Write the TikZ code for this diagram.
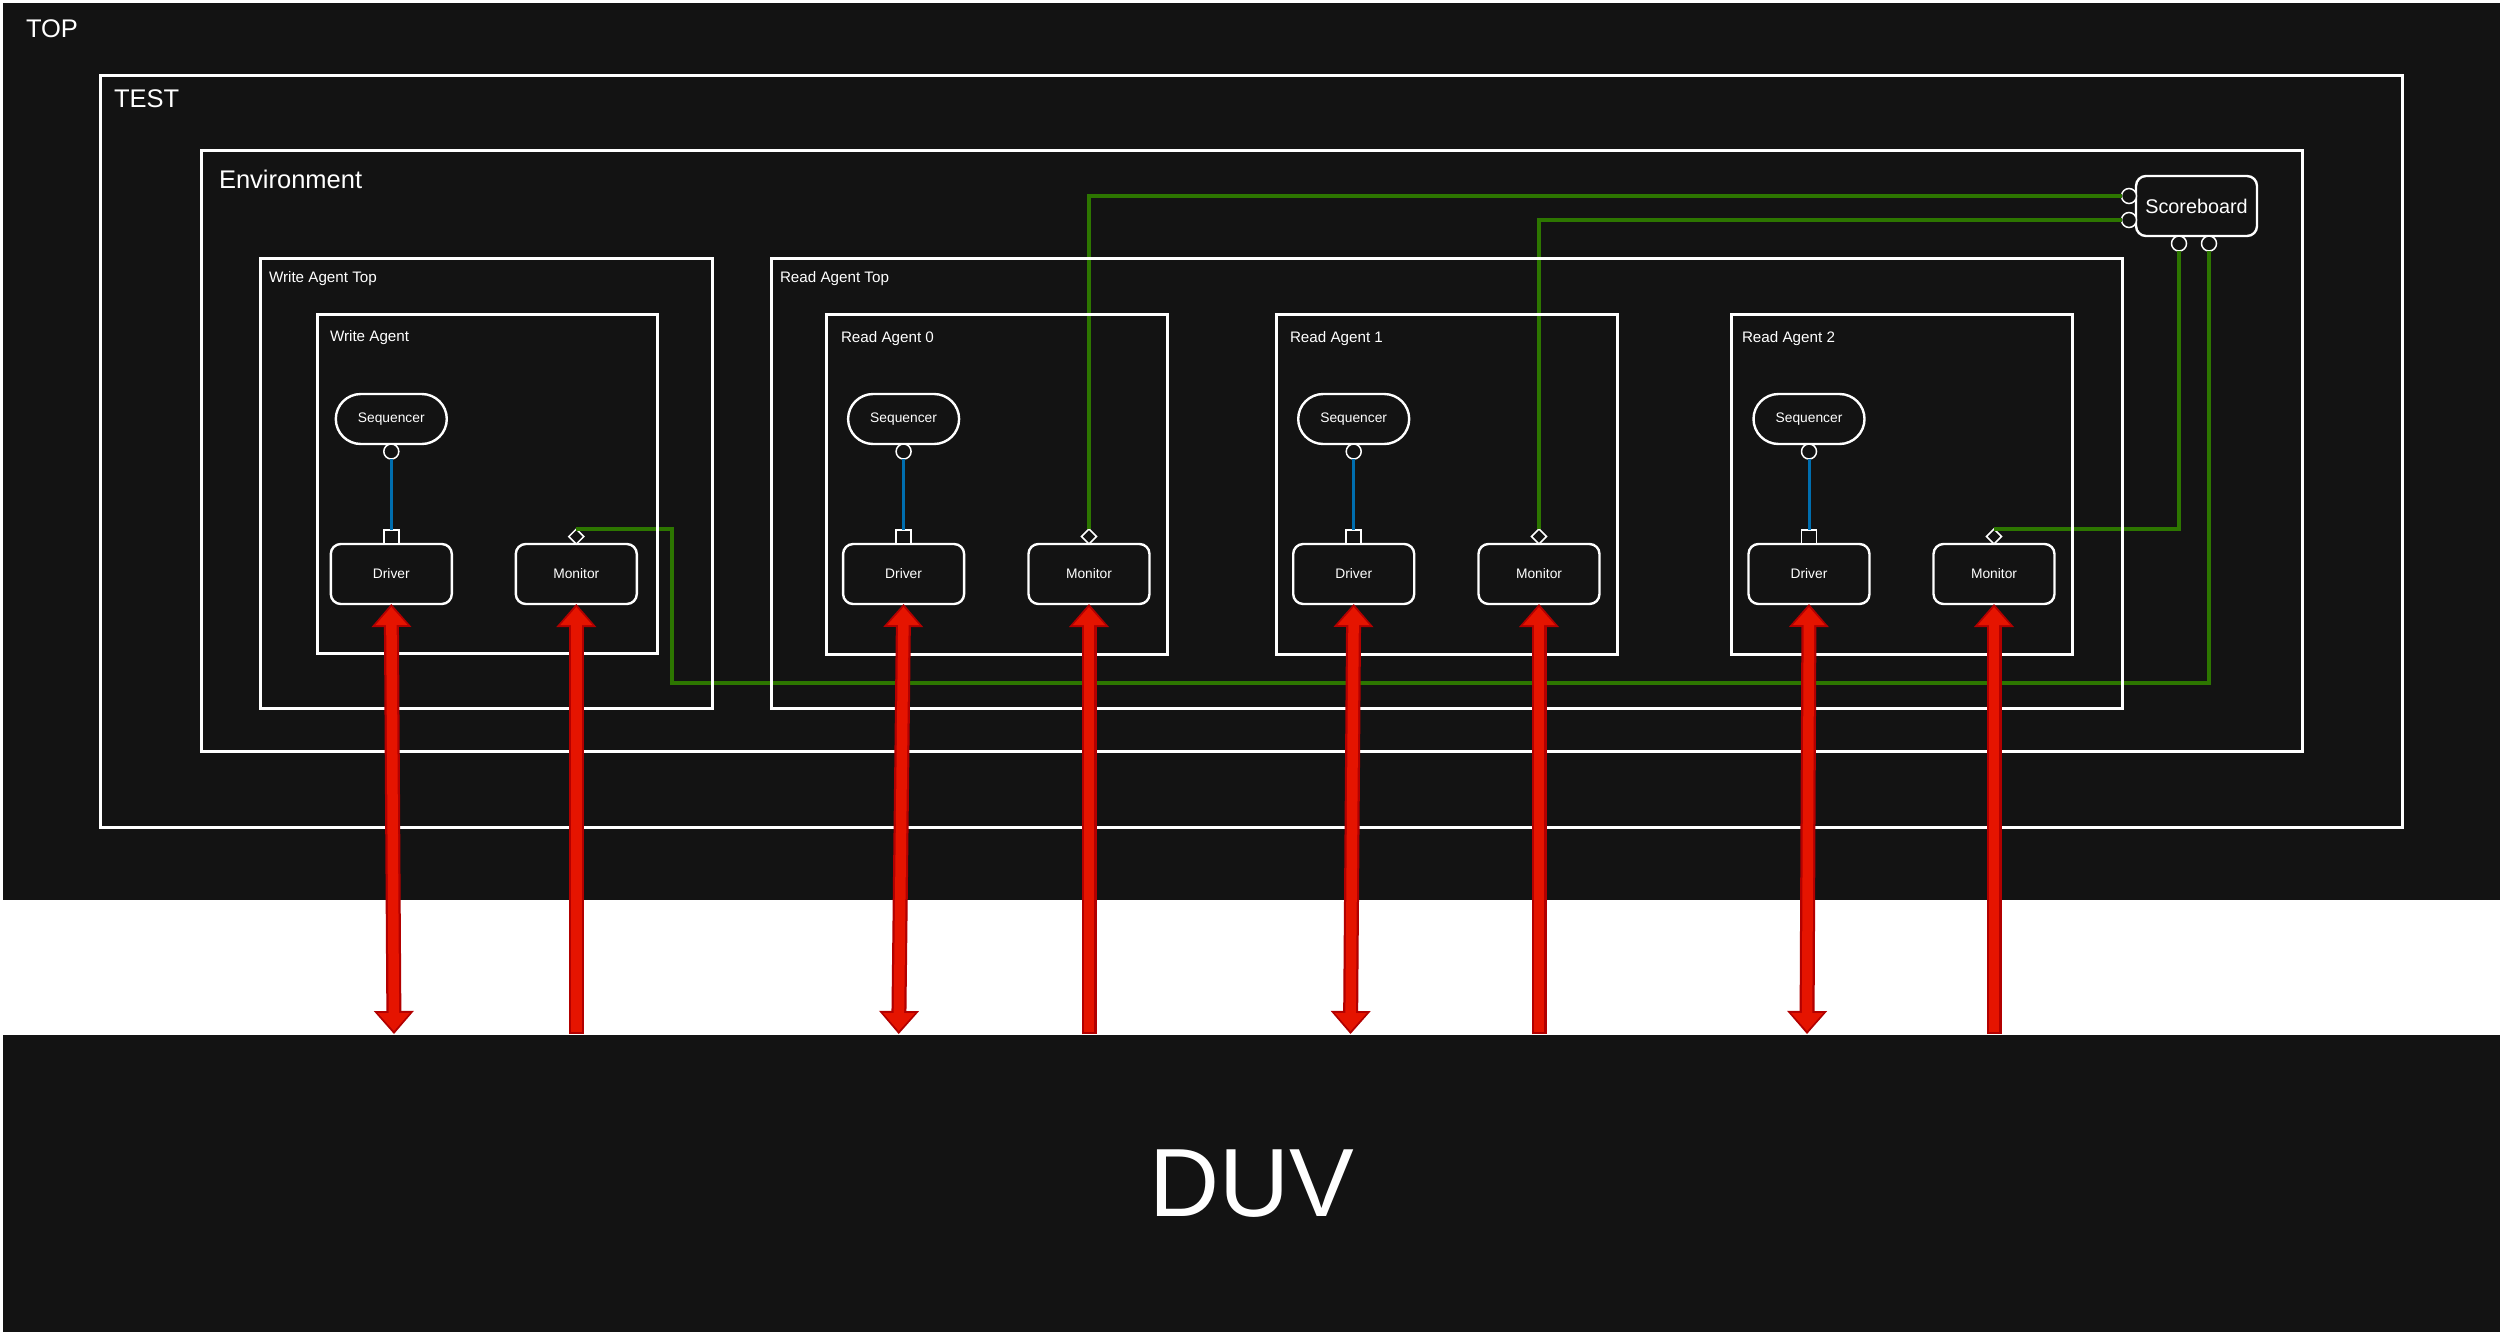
\documentclass[tikz,border=0pt]{standalone}
\usepackage{fontspec}
\setmainfont{Liberation Sans}
\usetikzlibrary{arrows.meta,shapes.geometric}
\definecolor{bgdark}{HTML}{131313}
\definecolor{lgreen}{HTML}{2D7600}
\definecolor{lblue}{HTML}{006EAF}
\definecolor{arrred}{HTML}{E51400}
\definecolor{arrdark}{HTML}{B20000}
\tikzset{
  cont/.style={rectangle, draw=white, line width=3pt, inner sep=0pt, outer sep=0pt, anchor=north west},
  lbl/.style={anchor=base west, inner sep=0pt, outer sep=0pt, text=white},
  bigl/.style={lbl, font=\fontsize{25.5}{30}\selectfont},
  midl/.style={lbl, font=\fontsize{15.2}{18}\selectfont},
  seqbox/.style={rectangle, draw=white, line width=2.4pt, rounded corners=25pt, minimum width=111pt, minimum height=50pt, inner sep=0pt, outer sep=0pt, text=white, font=\fontsize{13.8}{16}\selectfont},
  unitbox/.style={rectangle, draw=white, line width=2.4pt, rounded corners=10pt, minimum width=121pt, minimum height=60pt, inner sep=0pt, outer sep=0pt, text=white, font=\fontsize{13.8}{16}\selectfont},
  sbbox/.style={unitbox, font=\fontsize{19.8}{22}\selectfont},
  portc/.style={circle, draw=white, line width=1.5pt, fill=bgdark, minimum size=15pt, inner sep=0pt, outer sep=0pt},
  ports/.style={rectangle, draw=white, line width=1.5pt, fill=bgdark, minimum width=15pt, minimum height=14pt, inner sep=0pt, outer sep=0pt},
  portd/.style={diamond, draw=white, line width=1.5pt, fill=bgdark, minimum width=15pt, minimum height=15pt, inner sep=0pt, outer sep=0pt},
  blueline/.style={draw=lblue, line width=3pt},
  greenline/.style={draw=lgreen, line width=3.4pt},
  fatO/.style={draw=arrdark, line width=15pt},
  fatI/.style={draw=arrred, line width=10.5pt},
  dblO/.style={fatO, arrows={Triangle[length=23pt,width=40pt,line width=0pt]-Triangle[length=23pt,width=40pt,line width=0pt]}},
  dblI/.style={fatI, arrows={Triangle[length=18pt,width=32pt,line width=0pt]-Triangle[length=18pt,width=32pt,line width=0pt]}, shorten <=3pt, shorten >=3pt},
  sglO/.style={fatO, arrows={-Triangle[length=23pt,width=40pt,line width=0pt]}},
  sglI/.style={fatI, arrows={-Triangle[length=18pt,width=32pt,line width=0pt]}, shorten <=2pt, shorten >=3pt},
}
\begin{document}
\begin{tikzpicture}[x=1pt,y=-1pt]
\useasboundingbox[fill=white] (0,0) rectangle (2503,1335);

% TOP and DUV blocks
\node[rectangle, fill=bgdark, inner sep=0pt, outer sep=0pt, anchor=north west, minimum width=2497pt, minimum height=897pt] (top) at (3,3) {};
\node[rectangle, fill=bgdark, inner sep=0pt, outer sep=0pt, anchor=north west, minimum width=2497pt, minimum height=297pt, text=white, font=\fontsize{97}{100}\selectfont] (duv) at (3,1035) {DUV};
\node[bigl] (toplbl) at (26,38) {TOP};

% functional nodes (positions)
\node[seqbox] (waseq) at (391.3,419) {Sequencer};
\node[seqbox] (r0seq) at (903.6,419) {Sequencer};
\node[seqbox] (r1seq) at (1353.7,419) {Sequencer};
\node[seqbox] (r2seq) at (1809,419) {Sequencer};
\node[unitbox] (wadrv) at (391.3,574) {Driver};
\node[unitbox] (r0drv) at (903.6,574) {Driver};
\node[unitbox] (r1drv) at (1353.7,574) {Driver};
\node[unitbox] (r2drv) at (1809,574) {Driver};
\node[unitbox] (wamon) at (576.3,574) {Monitor};
\node[unitbox] (r0mon) at (1089,574) {Monitor};
\node[unitbox] (r1mon) at (1539,574) {Monitor};
\node[unitbox] (r2mon) at (1994,574) {Monitor};
\node[sbbox] (sb) at (2196.5,206) {Scoreboard};

% ports
\node[portc] (wasc) at (391.3,451.5) {};
\node[portc] (r0sc) at (903.6,451.5) {};
\node[portc] (r1sc) at (1353.7,451.5) {};
\node[portc] (r2sc) at (1809,451.5) {};
\node[ports] (wads) at (391.3,537) {};
\node[ports] (r0ds) at (903.6,537) {};
\node[ports] (r1ds) at (1353.7,537) {};
\node[ports] (r2ds) at (1809,537) {};
\node[portd] (wamd) at (576.3,536.5) {};
\node[portd] (r0md) at (1089,536.5) {};
\node[portd] (r1md) at (1539,536.5) {};
\node[portd] (r2md) at (1994,536.5) {};
\node[portc] (sbl1) at (2129,196) {};
\node[portc] (sbl2) at (2129,220) {};
\node[portc] (sbb1) at (2179,243.5) {};
\node[portc] (sbb2) at (2209,243.5) {};

% sequencer-driver links
\draw[blueline] (wasc) -- (wads);
\draw[blueline] (r0sc) -- (r0ds);
\draw[blueline] (r1sc) -- (r1ds);
\draw[blueline] (r2sc) -- (r2ds);

% analysis links to scoreboard
\coordinate (wabend) at (672,683);
\draw[greenline] (r0md.north) |- (sbl1.west);
\draw[greenline] (r1md.north) |- (sbl2.west);
\draw[greenline] (r2md.north) -| (sbb1.south);
\draw[greenline] (wamd.north) -| (wabend) -| (sbb2.south);

% containers
\node[cont, minimum width=2302pt, minimum height=751pt] (test) at (100,76) {};
\node[bigl] (testlbl) at (114,108) {TEST};
\node[cont, minimum width=2101pt, minimum height=600pt] (env) at (201,151) {};
\node[bigl] (envlbl) at (219,188) {Environment};
\node[cont, minimum width=452pt, minimum height=450pt] (wat) at (260,258) {};
\node[midl] (watlbl) at (269,282) {Write Agent Top};
\node[cont, minimum width=1351pt, minimum height=450pt] (rat) at (771,258) {};
\node[midl] (ratlbl) at (780,282) {Read Agent Top};
\node[cont, minimum width=340pt, minimum height=339pt] (wa) at (317,314) {};
\node[midl] (walbl) at (330,341) {Write Agent};
\node[cont, minimum width=341pt, minimum height=340pt] (ra0) at (826,314) {};
\node[midl] (ra0lbl) at (841,342) {Read Agent 0};
\node[cont, minimum width=341pt, minimum height=340pt] (ra1) at (1276,314) {};
\node[midl] (ra1lbl) at (1290,342) {Read Agent 1};
\node[cont, minimum width=341pt, minimum height=340pt] (ra2) at (1731,314) {};
\node[midl] (ra2lbl) at (1742,342) {Read Agent 2};

% DUV attachment points
\coordinate (duvwd) at (394,1034);
\coordinate (duvwm) at (576.3,1034);
\coordinate (duv0d) at (898.7,1034);
\coordinate (duv0m) at (1089,1034);
\coordinate (duv1d) at (1350.5,1034);
\coordinate (duv1m) at (1539,1034);
\coordinate (duv2d) at (1807,1034);
\coordinate (duv2m) at (1994,1034);

% red interface arrows
\foreach \d/\b in {wadrv/duvwd, r0drv/duv0d, r1drv/duv1d, r2drv/duv2d}{
  \draw[dblO] (\d.south) -- (\b);
  \draw[dblI] (\d.south) -- (\b);
}
\foreach \m/\b in {wamon/duvwm, r0mon/duv0m, r1mon/duv1m, r2mon/duv2m}{
  \draw[sglO] (\b) -- (\m.south);
  \draw[sglI] (\b) -- (\m.south);
}
\end{tikzpicture}
\end{document}
